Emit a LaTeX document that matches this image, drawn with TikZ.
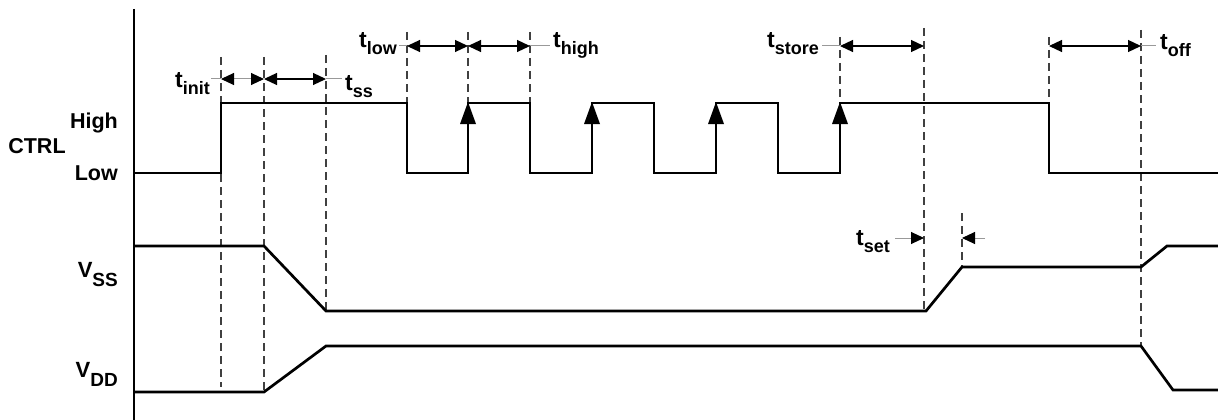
\documentclass[tikz,border=0pt]{standalone}
\usepackage{fontspec}
\setmainfont{Liberation Sans}
\usetikzlibrary{arrows.meta}
\newcommand\tsub[1]{{\fontsize{23}{24}\selectfont t}\raisebox{-7pt}{\fontsize{18}{18}\selectfont #1}}
\newcommand\vsub[1]{{\fontsize{22}{24}\selectfont V}\raisebox{-9pt}{\fontsize{19}{19}\selectfont #1}}
\begin{document}
\begin{tikzpicture}[x=1pt,y=-1pt,
  sig/.style={line width=2.7pt, line join=miter},
  guide/.style={line width=1.3pt, dash pattern=on 8pt off 5pt, black!75},
  tip/.tip={Triangle[length=13pt,width=12pt,color=black]},
  dimb/.style={line width=1.2pt, tip-tip},
  dimg/.style={line width=1pt, black!40, tip-tip},
  ext/.style={line width=1pt, black!40},
  lbl/.style={inner sep=0pt, font=\fontsize{21.5}{24}\selectfont\bfseries},
  edgetip/.style={fill=black}]
\useasboundingbox (0,0) rectangle (1218,420);

% axis
\draw[sig] (134,9) -- (134,420);

% guide lines
\draw[guide] (221,57) -- (221,387);
\draw[guide] (264,57) -- (264,392);
\draw[guide] (326,55) -- (326,311);
\draw[guide] (407,32) -- (407,103);
\draw[guide] (468,32) -- (468,103);
\draw[guide] (530,32) -- (530,103);
\draw[guide] (840,37) -- (840,103);
\draw[guide] (924,28) -- (924,311);
\draw[guide] (962,213) -- (962,267);
\draw[guide] (1049,37) -- (1049,103);
\draw[guide] (1141,30) -- (1141,346);

% signals
\draw[sig] (134,173) -- (221,173) -- (221,103) -- (407,103) -- (407,173) -- (468,173) -- (468,103)
  -- (530,103) -- (530,173) -- (592,173) -- (592,103) -- (654,103) -- (654,173) -- (716,173)
  -- (716,103) -- (778,103) -- (778,173) -- (840,173) -- (840,103) -- (1049,103) -- (1049,173) -- (1218,173);
\draw[sig] (134,246) -- (264,246) -- (326,311) -- (926,311) -- (962,267) -- (1141,267) -- (1167,246) -- (1218,246);
\draw[sig] (134,392) -- (264,392) -- (326,346) -- (1141,346) -- (1173,390) -- (1218,390);

% rising-edge arrows
\foreach \x in {468,592,716,840}
  \fill[edgetip] (\x,102) -- (\x-8,124) -- (\x+8,124) -- cycle;

% labels
\node[lbl] (ctrl) at (37,146) {CTRL};
\node[lbl, anchor=east] (high) at (118,123) {High};
\node[lbl, anchor=east] (low) at (118,173) {Low};
\node[lbl, anchor=base east] (vss) at (118,277) {\vsub{SS}};
\node[lbl, anchor=base east] (vdd) at (118,377) {\vsub{DD}};

\node[lbl, anchor=base east] (tinit) at (210,87) {\tsub{init}};
\node[lbl, anchor=base west] (tss) at (345,90) {\tsub{ss}};
\node[lbl, anchor=base east] (tlow) at (397,48) {\tsub{low}};
\node[lbl, anchor=base west] (thigh) at (553,48) {\tsub{high}};
\node[lbl, anchor=base east] (tstore) at (819,48) {\tsub{store}};
\node[lbl, anchor=base west] (toff) at (1160,50) {\tsub{off}};
\node[lbl, anchor=base east] (tset) at (890,245) {\tsub{set}};

% dimension markers
\coordinate (i1) at (221,79); \coordinate (i2) at (264,79); \coordinate (i3) at (326,79);
\draw[ext] (tinit.east |- i1) ++(1,0) -- (i1);
\draw[dimg] (i1) -- (i2);
\draw[dimb] (i2) -- (i3);
\draw[ext] (i3) -- (342,79);

\coordinate (l1) at (407,46); \coordinate (l2) at (468,46); \coordinate (l3) at (530,46);
\draw[ext] (399,46) -- (l1);
\draw[dimb] (l1) -- (l2);
\draw[dimb] (l2) -- (l3);
\draw[ext] (l3) -- (550,46);

\coordinate (s1) at (840,46); \coordinate (s2) at (924,46);
\draw[ext] (822,46) -- (s1);
\draw[dimb] (s1) -- (s2);

\coordinate (o1) at (1049,46); \coordinate (o2) at (1141,46);
\draw[dimb] (o1) -- (o2);
\draw[ext] (o2) -- (1156,46);

\coordinate (e1) at (924,238); \coordinate (e2) at (962,238);
\draw[ext, -tip] (895,238) -- (e1);
\draw[ext, -tip] (985,238) -- (e2);
\end{tikzpicture}
\end{document}
